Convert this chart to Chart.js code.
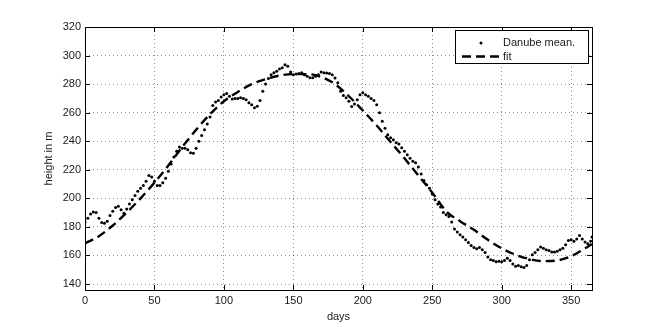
<!DOCTYPE html>
<html>
<head>
<meta charset="utf-8">
<script src="https://cdn.jsdelivr.net/npm/chart.js@4.4.0/dist/chart.umd.min.js"></script>
<style>
html, body { margin: 0; padding: 0; background: #fff; }
</style>
</head>
<body>
<canvas id="danubeChart" width="654" height="327"></canvas>
<script>
// daily mean water height of the Danube, read every second day
const days = [
    0, 2, 4, 6, 8, 10, 12, 14, 16, 18, 20, 22, 24, 26, 28, 30, 32, 34, 36, 38,
    40, 42, 44, 46, 48, 50, 52, 54, 56, 58, 60, 62, 64, 66, 68, 70, 72, 74, 76, 78,
    80, 82, 84, 86, 88, 90, 92, 94, 96, 98, 100, 102, 104, 106, 108, 110, 112, 114, 116, 118,
    120, 122, 124, 126, 128, 130, 132, 134, 136, 138, 140, 142, 144, 146, 148, 150, 152, 154, 156, 158,
    160, 162, 164, 166, 168, 170, 172, 174, 176, 178, 180, 182, 184, 186, 188, 190, 192, 194, 196, 198,
    200, 202, 204, 206, 208, 210, 212, 214, 216, 218, 220, 222, 224, 226, 228, 230, 232, 234, 236, 238,
    240, 242, 244, 246, 248, 250, 252, 254, 256, 258, 260, 262, 264, 266, 268, 270, 272, 274, 276, 278,
    280, 282, 284, 286, 288, 290, 292, 294, 296, 298, 300, 302, 304, 306, 308, 310, 312, 314, 316, 318,
    320, 322, 324, 326, 328, 330, 332, 334, 336, 338, 340, 342, 344, 346, 348, 350, 352, 354, 356, 358,
    360, 362, 364, 365
];
const height = [
    183.5, 186, 189, 190.5, 190, 186, 183, 182.5, 184, 188, 191, 193.5, 194.5, 192, 189.5, 192.5, 196, 199, 202, 205,
    207, 209, 212, 216, 215, 212, 209, 209, 211, 214, 219, 224, 229, 233, 236, 235, 235, 234, 232, 231.5,
    235, 240, 244, 248, 252, 257, 265, 267.5, 268.5, 271, 272.5, 273.5, 271.5, 269.5, 270, 270, 270.5, 270, 269, 267,
    265.5, 263.5, 264.5, 268.5, 275, 280, 284, 286.5, 288, 289, 290.5, 291.5, 293.5, 292.5, 288.5, 286.5, 287, 287.5, 288, 286.5,
    285.5, 284.5, 284.5, 285.5, 286.5, 288.5, 288, 287.8, 287.5, 286.5, 284.3, 281, 275, 272, 270.5, 268, 264.3, 266, 269, 272.5,
    274, 272.5, 271.5, 270, 268.5, 265.5, 260, 254, 249, 244.5, 242.5, 241, 239, 238, 235.5, 233, 230.5, 228, 226, 225,
    222, 217, 212.5, 209.5, 207, 203, 199, 196, 194, 190, 188.5, 187.2, 183.5, 178.5, 176.5, 174.5, 173, 171, 169, 167,
    165.5, 164.7, 165.5, 164, 162, 159, 157, 156.5, 155.5, 156, 155.5, 156.5, 158, 156.5, 154, 152.5, 153, 152, 151.5, 153,
    157, 160.5, 162, 164, 165.9, 165, 164, 163.5, 162.5, 162.4, 163, 164, 165, 167.5, 170.5, 171, 170, 171.5, 174, 171.5,
    169.5, 168.2, 170, 173
];

// fitted curve, read every ten days
const fitDays = [
    0, 10, 20, 30, 40, 50, 60, 70, 80, 90, 100, 110, 120, 130, 140, 150, 160, 170, 180,
    190, 200, 210, 220, 230, 240, 250, 260, 270, 280, 290, 300, 310, 320, 330, 340, 350, 360, 365
];
const fitHeight = [
    168.5, 173.5, 181, 190, 200, 211, 223, 236, 248, 259, 268, 274.5, 280, 283.5, 286, 287, 287, 285, 280,
    271.5, 261.5, 251, 239.5, 228, 216, 204, 191, 184, 178, 171, 165, 160.5, 157.5, 156, 156.5, 159.5, 165, 168
];

const xTicks = [0, 50, 100, 150, 200, 250, 300, 350];
const yTicks = [140, 160, 180, 200, 220, 240, 260, 280, 300, 320];

const FONT = "'Liberation Sans', Arial, Helvetica, sans-serif";
const TEXT = '#1a1a1a';

// MATLAB-like box with inward ticks, axis titles and legend
const framePlugin = {
    id: 'frame',
    afterDraw(chart) {
        const { ctx, chartArea: a, scales } = chart;
        ctx.save();

        // inward ticks on all four sides
        ctx.strokeStyle = '#000';
        ctx.lineWidth = 1;
        ctx.beginPath();
        xTicks.forEach(v => {
            const x = Math.round(scales.x.getPixelForValue(v)) + 0.5;
            ctx.moveTo(x, a.bottom); ctx.lineTo(x, a.bottom - 5);
            ctx.moveTo(x, a.top); ctx.lineTo(x, a.top + 5);
        });
        yTicks.forEach(v => {
            const y = Math.round(scales.y.getPixelForValue(v)) + 0.5;
            ctx.moveTo(a.left, y); ctx.lineTo(a.left + 5, y);
            ctx.moveTo(a.right, y); ctx.lineTo(a.right - 5, y);
        });
        ctx.stroke();

        ctx.strokeRect(Math.round(a.left) + 0.5, Math.round(a.top) + 0.5,
            Math.round(a.right - a.left), Math.round(a.bottom - a.top));

        // axis titles
        ctx.fillStyle = TEXT;
        ctx.font = '11px ' + FONT;
        ctx.textAlign = 'center';
        ctx.textBaseline = 'middle';
        ctx.fillText('days', (a.left + a.right) / 2, 317);
        ctx.save();
        ctx.translate(49, (a.top + a.bottom) / 2);
        ctx.rotate(-Math.PI / 2);
        ctx.fillText('height in m', 0, 0);
        ctx.restore();

        // legend
        const lx = 455, ly = 30, lw = 133, lh = 33;
        ctx.fillStyle = '#fff';
        ctx.fillRect(lx, ly, lw, lh);
        ctx.strokeStyle = '#000';
        ctx.strokeRect(lx + 0.5, ly + 0.5, lw, lh);

        ctx.fillStyle = '#000';
        ctx.beginPath();
        ctx.arc(481, 43, 1.5, 0, Math.PI * 2);
        ctx.fill();

        ctx.lineWidth = 2.4;
        ctx.setLineDash([9, 5]);
        ctx.beginPath();
        ctx.moveTo(462, 56.5);
        ctx.lineTo(501, 56.5);
        ctx.stroke();
        ctx.setLineDash([]);

        ctx.fillStyle = TEXT;
        ctx.textAlign = 'left';
        ctx.fillText('Danube mean.', 503, 43);
        ctx.fillText('fit', 503, 57);
        ctx.restore();
    }
};

new Chart(document.getElementById('danubeChart'), {
    type: 'scatter',
    data: {
        datasets: [{
            label: 'fit',
            data: fitDays.map((d, i) => ({ x: d, y: fitHeight[i] })),
            showLine: true,
            borderColor: '#000',
            borderWidth: 2.4,
            borderDash: [9, 5],
            pointRadius: 0,
            cubicInterpolationMode: 'monotone',
            order: 2
        }, {
            label: 'Danube mean.',
            data: days.map((d, i) => ({ x: d, y: height[i] })),
            showLine: false,
            pointRadius: 1.5,
            pointBorderWidth: 0,
            pointBackgroundColor: '#000',
            order: 1
        }]
    },
    options: {
        responsive: false,
        animation: false,
        devicePixelRatio: 1,
        layout: { padding: { top: 27, right: 62, left: 0, bottom: 0 } },
        plugins: {
            legend: { display: false },
            tooltip: { enabled: false }
        },
        scales: {
            x: {
                type: 'linear',
                min: 0,
                max: 365,
                afterFit: s => { s.height = 37; },
                afterBuildTicks: s => { s.ticks = xTicks.map(v => ({ value: v })); },
                ticks: { padding: 4, color: TEXT, font: { family: FONT, size: 11 }, maxRotation: 0, autoSkip: false },
                grid: { color: 'rgba(0,0,0,0.45)', drawTicks: false },
                border: { display: false, dash: [1, 3] }
            },
            y: {
                min: 135.8,
                max: 320,
                afterFit: s => { s.width = 85; },
                afterBuildTicks: s => { s.ticks = yTicks.map(v => ({ value: v })); },
                ticks: { padding: 4, color: TEXT, font: { family: FONT, size: 11 }, autoSkip: false },
                grid: { color: 'rgba(0,0,0,0.45)', drawTicks: false },
                border: { display: false, dash: [1, 3] }
            }
        }
    },
    plugins: [framePlugin]
});
</script>
</body>
</html>
